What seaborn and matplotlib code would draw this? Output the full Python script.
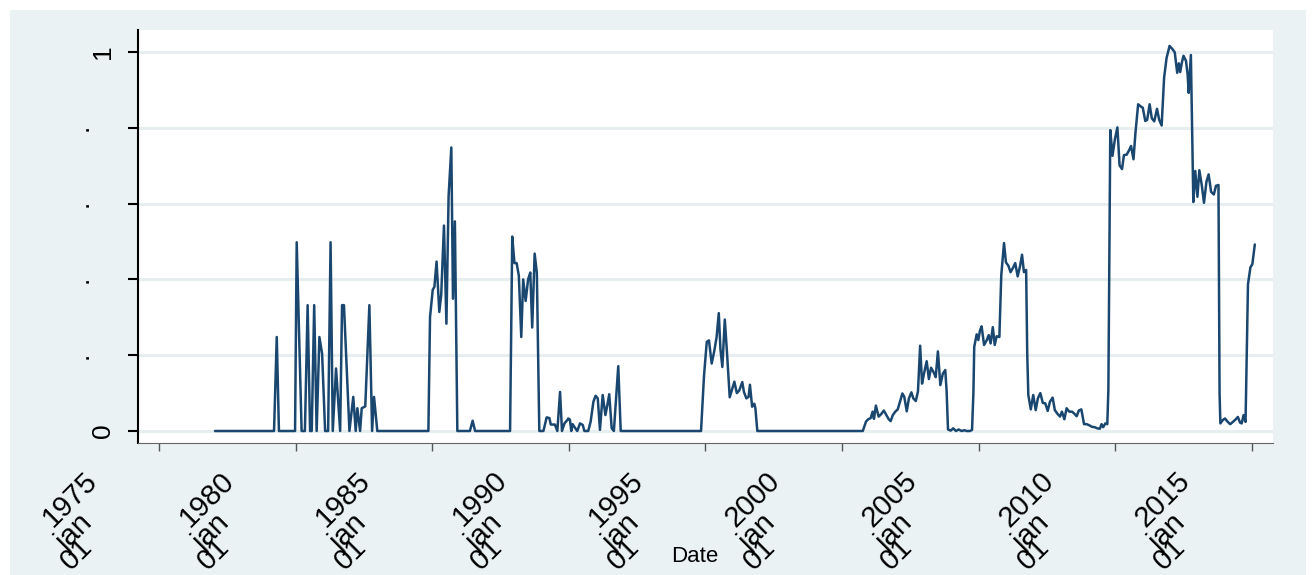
import matplotlib
matplotlib.use('Agg')
import numpy as np
import pandas as pd
import matplotlib.pyplot as plt
import seaborn as sns
from matplotlib.patches import Rectangle

# values: decimal year -> index value
years = [
    1977.05, 1979.21, 1979.31, 1979.39, 1979.98, 1980.04, 1980.22, 1980.34, 1980.44, 1980.53,
    1980.59, 1980.68, 1980.77, 1980.87, 1980.97, 1981.08, 1981.19, 1981.28, 1981.36, 1981.48,
    1981.63, 1981.70, 1981.77, 1981.97, 1982.11, 1982.20, 1982.26, 1982.36, 1982.42, 1982.55,
    1982.70, 1982.80, 1982.87, 1982.99,
    1984.86, 1984.92, 1985.02, 1985.08, 1985.16, 1985.26, 1985.33, 1985.43, 1985.52, 1985.60,
    1985.70, 1985.76, 1985.83, 1985.90, 1985.92, 1986.38, 1986.48, 1986.57,
    1987.85, 1987.93, 1988.01, 1988.09, 1988.17, 1988.26, 1988.33, 1988.42, 1988.51, 1988.59,
    1988.66, 1988.75, 1988.83, 1988.92, 1989.07, 1989.19, 1989.29, 1989.34, 1989.49, 1989.58,
    1989.68, 1989.75, 1989.84, 1989.95, 1989.98, 1990.04, 1990.09, 1990.14, 1990.24, 1990.31,
    1990.41, 1990.51, 1990.57, 1990.71, 1990.80, 1990.90, 1990.98, 1991.06, 1991.14, 1991.24,
    1991.34, 1991.41, 1991.48, 1991.57, 1991.65, 1991.81, 1991.90,
    1994.84, 1994.95, 1995.05, 1995.13, 1995.23, 1995.33, 1995.41, 1995.49, 1995.55, 1995.62,
    1995.71, 1995.79, 1995.89, 1995.97, 1996.06, 1996.15, 1996.24, 1996.35, 1996.41, 1996.50,
    1996.58, 1996.63, 1996.71, 1996.79, 1996.83, 1996.90,
    2000.76, 2000.88, 2000.96, 2001.05, 2001.12, 2001.17, 2001.24, 2001.34, 2001.44, 2001.53,
    2001.61, 2001.71, 2001.78, 2001.86, 2001.95, 2002.04, 2002.12, 2002.21, 2002.28, 2002.37,
    2002.45, 2002.54, 2002.61, 2002.70, 2002.78, 2002.86, 2002.93, 2003.00, 2003.10, 2003.18,
    2003.26, 2003.36, 2003.43, 2003.51, 2003.60, 2003.69, 2003.78, 2003.83, 2003.88, 2003.98,
    2004.07, 2004.17, 2004.27, 2004.38, 2004.48, 2004.56, 2004.69, 2004.76, 2004.81, 2004.84,
    2004.93, 2004.99, 2005.05, 2005.11, 2005.20, 2005.30, 2005.37, 2005.44, 2005.52, 2005.59,
    2005.66, 2005.76, 2005.83, 2005.93, 2006.00, 2006.09, 2006.17, 2006.27, 2006.34, 2006.43,
    2006.52, 2006.59, 2006.66, 2006.74, 2006.78, 2006.82, 2006.91, 2007.00, 2007.09, 2007.17,
    2007.26, 2007.35, 2007.44, 2007.53, 2007.61, 2007.71, 2007.79, 2007.88, 2007.98, 2008.05,
    2008.14, 2008.22, 2008.32, 2008.42, 2008.50, 2008.59, 2008.67, 2008.76, 2008.86, 2008.96,
    2009.05, 2009.15, 2009.25, 2009.34, 2009.44, 2009.50, 2009.56, 2009.64, 2009.71, 2009.75,
    2009.82, 2009.90, 2009.99, 2010.08, 2010.16, 2010.25, 2010.32, 2010.42, 2010.51, 2010.58,
    2010.67, 2010.74, 2010.84, 2010.94, 2011.01, 2011.10, 2011.17, 2011.26, 2011.34, 2011.43,
    2011.53, 2011.61, 2011.70, 2011.79, 2011.88, 2011.99, 2012.09, 2012.18, 2012.27, 2012.33,
    2012.38, 2012.44, 2012.50, 2012.59, 2012.65, 2012.69, 2012.77, 2012.86, 2012.93, 2013.01,
    2013.08, 2013.17, 2013.25, 2013.34, 2013.42, 2013.51, 2013.61, 2013.69, 2013.78, 2013.82,
    2013.85, 2013.94, 2014.02, 2014.12, 2014.21, 2014.31, 2014.40, 2014.49, 2014.57, 2014.63,
    2014.70, 2014.77, 2014.79, 2014.86, 2014.95, 2015.02, 2015.11,
]
values = [
    0, 0, 0.248, 0, 0, 0.498, 0, 0, 0.332, 0,
    0, 0.332, 0, 0.248, 0.204, 0, 0, 0.498, 0, 0.165,
    0, 0.332, 0.332, 0, 0.09, 0, 0.06, 0, 0.06, 0.065,
    0.332, 0, 0.09, 0,
    0, 0.30, 0.373, 0.38, 0.447, 0.314, 0.36, 0.542, 0.283, 0.62,
    0.748, 0.349, 0.553, 0.108, 0, 0, 0.027, 0,
    0, 0.513, 0.443, 0.443, 0.41, 0.248, 0.40, 0.343, 0.40, 0.418,
    0.273, 0.468, 0.417, 0, 0, 0.036, 0.034, 0.017, 0.017, 0,
    0.103, 0, 0.02, 0.029, 0.033, 0.03, 0, 0.018, 0.007, 0,
    0.02, 0.016, 0, 0, 0.025, 0.077, 0.093, 0.086, 0.003, 0.095,
    0.042, 0.068, 0.097, 0.007, 0, 0.171, 0,
    0, 0.147, 0.235, 0.239, 0.178, 0.213, 0.248, 0.311, 0.216, 0.169,
    0.294, 0.207, 0.089, 0.108, 0.13, 0.10, 0.107, 0.129, 0.103, 0.086,
    0.09, 0.122, 0.064, 0.072, 0.06, 0,
    0, 0.025, 0.031, 0.034, 0.051, 0.032, 0.067, 0.038, 0.045, 0.054,
    0.044, 0.031, 0.026, 0.042, 0.051, 0.057, 0.077, 0.099, 0.09, 0.052,
    0.086, 0.102, 0.086, 0.079, 0.104, 0.225, 0.125, 0.151, 0.184, 0.137,
    0.167, 0.154, 0.142, 0.21, 0.121, 0.151, 0.161, 0.104, 0.004, 0.001,
    0.007, 0, 0.004, 0, 0.002, 0, 0, 0.003, 0.101, 0.222,
    0.255, 0.24, 0.265, 0.276, 0.227, 0.24, 0.253, 0.231, 0.274, 0.227,
    0.25, 0.248, 0.411, 0.496, 0.445, 0.436, 0.419, 0.432, 0.443, 0.408,
    0.436, 0.465, 0.419, 0.425, 0.204, 0.095, 0.057, 0.095, 0.055, 0.086,
    0.10, 0.074, 0.073, 0.053, 0.077, 0.088, 0.055, 0.046, 0.038, 0.051,
    0.031, 0.06, 0.051, 0.051, 0.046, 0.039, 0.054, 0.057, 0.018, 0.018,
    0.015, 0.011, 0.01, 0.007, 0.006, 0.018, 0.01, 0.02, 0.018, 0.108,
    0.794, 0.726, 0.77, 0.801, 0.701, 0.691, 0.728, 0.729, 0.741, 0.752,
    0.717, 0.786, 0.862, 0.856, 0.853, 0.818, 0.821, 0.862, 0.825, 0.817,
    0.85, 0.821, 0.806, 0.932, 0.984, 1.016, 1.008, 0.999, 0.945, 0.97,
    0.947, 0.972, 0.99, 0.977, 0.942, 0.892, 0.992, 0.604, 0.686, 0.618,
    0.688, 0.648, 0.602, 0.658, 0.677, 0.631, 0.624, 0.647, 0.649, 0.1,
    0.02, 0.029, 0.033, 0.024, 0.018, 0.024, 0.03, 0.037, 0.022, 0.02,
    0.042, 0.024, 0.1, 0.387, 0.432, 0.44, 0.492,
]

tick_years = [1975, 1980, 1985, 1990, 1995, 2000, 2005, 2010, 2015]
y_ticks = [0, 0.2, 0.4, 0.6, 0.8, 1.0]
y_labels = ['0', '.', '.', '.', '.', '1']

line_color = '#1a476f'
bg_color = '#EAF2F3'

origin = pd.Timestamp('1975-01-01')


def to_date(y):
    return origin + pd.to_timedelta((np.asarray(y) - 1975) * 365.25, unit='D')


df = pd.DataFrame({'date': to_date(years), 'value': values})

sns.set_theme(style='white')
plt.rcParams['font.family'] = ['Liberation Sans', 'DejaVu Sans']

W, H = 1315, 575
fig = plt.figure(figsize=(W / 100, H / 100), dpi=100, facecolor='white')
fig.patches.append(Rectangle((10 / W, 0), (1306 - 10) / W, (H - 10) / H,
                             transform=fig.transFigure, facecolor=bg_color,
                             edgecolor='none', zorder=-10))

ax = fig.add_axes([138 / W, 1 - 443 / H, (1273 - 138) / W, (443 - 30) / H])
ax.set_facecolor('white')

sns.lineplot(data=df, x='date', y='value', ax=ax, color=line_color,
             linewidth=1.8, estimator=None, zorder=3)

ax.set_xlim(to_date(1974.231), to_date(2015.776))
ax.set_ylim(-0.0317, 1.058)

# gridlines
ax.set_yticks(y_ticks)
ax.yaxis.grid(True, color='#E6EEF0', linewidth=2.2, zorder=0)
ax.xaxis.grid(False)

# spines
for s in ['top', 'right']:
    ax.spines[s].set_visible(False)
ax.spines['left'].set_color('black')
ax.spines['left'].set_linewidth(1.5)
ax.spines['bottom'].set_color('#666666')
ax.spines['bottom'].set_linewidth(0.8)

ax.set_xticks([pd.Timestamp(f'{y}-01-01') for y in tick_years])
ax.set_xticklabels([])
ax.set_yticklabels([])
ax.tick_params(axis='x', direction='out', length=6, width=1, color='#555555', bottom=True)
ax.tick_params(axis='y', direction='out', length=7.5, width=1.5, color='black', left=True)
ax.set_xlabel('')
ax.set_ylabel('')

# y tick labels, rotated like the original
for v, lab in zip(y_ticks, y_labels):
    dx = -35 if lab != '.' else -57
    ax.annotate(lab, xy=(0, v), xycoords=('axes fraction', 'data'),
                xytext=(dx, 0), textcoords='offset pixels', rotation=90,
                ha='center', va='center', fontsize=19, color='black')

# x tick labels: year / jan / 01 stacked, rotated 45
for y in tick_years:
    d = pd.Timestamp(f'{y}-01-01')
    for txt, (dx, dy) in zip([str(y), 'jan', '01'], [(-89, -56), (-84, -89), (-82, -111)]):
        ax.annotate(txt, xy=(d, 0), xycoords=('data', 'axes fraction'),
                    xytext=(dx, dy), textcoords='offset pixels', rotation=45,
                    ha='center', va='center', fontsize=21, color='black')

fig.text(695 / W, 1 - 557 / H, 'Date', ha='center', va='center', fontsize=16, color='black')

fig.savefig('out.png', dpi=100, facecolor=fig.get_facecolor())
